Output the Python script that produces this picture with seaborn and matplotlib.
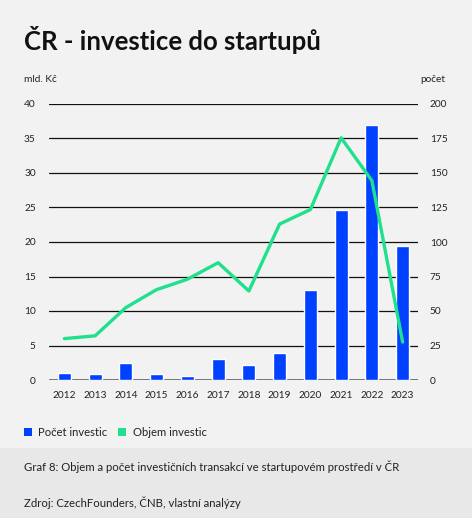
import numpy as np
import matplotlib
matplotlib.use('Agg')
import matplotlib.pyplot as plt
import matplotlib.patches as mpatches
import seaborn as sns

# data
years = ['2012', '2013', '2014', '2015', '2016', '2017',
         '2018', '2019', '2020', '2021', '2022', '2023']
pocet = [5, 4.5, 12, 4, 3, 15, 11, 19.5, 65, 123, 185, 97]          # bars, right axis
objem = [6.0, 6.4, 10.5, 13.1, 14.6, 17.0, 12.9, 22.6, 24.7, 35.1, 28.9, 5.5]  # line, left axis

left_ticks = [0, 5, 10, 15, 20, 25, 30, 35, 40]
right_ticks = [0, 25, 50, 75, 100, 125, 150, 175, 200]

blue = '#0040ff'
green = '#1fe08c'
bg = '#f2f2f2'
bg2 = '#e8e8e8'

sns.set_style('white')
plt.rcParams['font.family'] = ['Lato', 'DejaVu Sans']

W, H = 472, 518
fig = plt.figure(figsize=(W / 100, H / 100), dpi=100)
fig.patch.set_facecolor(bg)
# darker footer band
fig.add_artist(mpatches.Rectangle((0, 0), 1, 70 / H, transform=fig.transFigure,
                                  facecolor=bg2, edgecolor='none', zorder=0))

ax = fig.add_axes([49 / W, (H - 380) / H, (418 - 49) / W, (380 - 104) / H])
ax.set_facecolor('none')
ax2 = ax.twinx()

# bars (count) on the right-hand axis
sns.barplot(x=years, y=pocet, color=blue, width=0.42, saturation=1, ax=ax, zorder=2)
ax.set_ylim(0, 200)
ax.set_yticks(right_ticks)
ax.grid(axis='y', color='#111111', linewidth=0.9, zorder=0)
ax.set_axisbelow(True)

# line (volume) on the left-hand axis
sns.lineplot(x=years, y=objem, color=green, linewidth=2.4, ax=ax2, zorder=3)
ax2.set_ylim(0, 40)
ax2.set_yticks(left_ticks)
ax2.grid(False)

ax.yaxis.tick_right()
ax2.yaxis.tick_left()

ax.set_xlim(-0.5, len(years) - 0.5)
for a in (ax, ax2):
    a.set_xlabel('')
    a.set_ylabel('')
    for s in a.spines.values():
        s.set_visible(False)
    a.tick_params(length=0, labelsize=7.3, colors='#222222')
ax.tick_params(axis='x', pad=8)
ax.tick_params(axis='y', pad=8.5)
ax2.tick_params(axis='y', pad=9.5)
ax.axhline(0, color='#777777', linewidth=1.4, zorder=1)

# title and axis captions
fig.text(24 / W, 1 - 40 / H, 'ČR - investice do startupů', fontsize=18.5,
         fontweight='bold', color='#111111', va='center', ha='left')
fig.text(24 / W, 1 - 80 / H, 'mld. Kč', fontsize=7.3, color='#222222', va='center')
fig.text(420 / W, 1 - 80 / H, 'počet', fontsize=7.3, color='#222222', va='center')

# legend
fig.add_artist(mpatches.Rectangle((24 / W, 1 - 436 / H), 8 / W, 8 / H,
                                  transform=fig.transFigure, facecolor=blue, edgecolor='none'))
fig.text(38 / W, 1 - 432 / H, 'Počet investic', fontsize=8.1, color='#222222', va='center')
fig.add_artist(mpatches.Rectangle((118 / W, 1 - 436 / H), 8 / W, 8 / H,
                                  transform=fig.transFigure, facecolor=green, edgecolor='none'))
fig.text(133 / W, 1 - 432 / H, 'Objem investic', fontsize=8.1, color='#222222', va='center')

# footer
fig.text(24 / W, 1 - 467 / H, 'Graf 8: Objem a počet investičních transakcí ve startupovém prostředí v ČR',
         fontsize=8.2, color='#222222', va='center')
fig.text(24 / W, 1 - 503 / H, 'Zdroj: CzechFounders, ČNB, vlastní analýzy',
         fontsize=8.2, color='#222222', va='center')

fig.savefig('out.png', dpi=100, facecolor=fig.get_facecolor())
